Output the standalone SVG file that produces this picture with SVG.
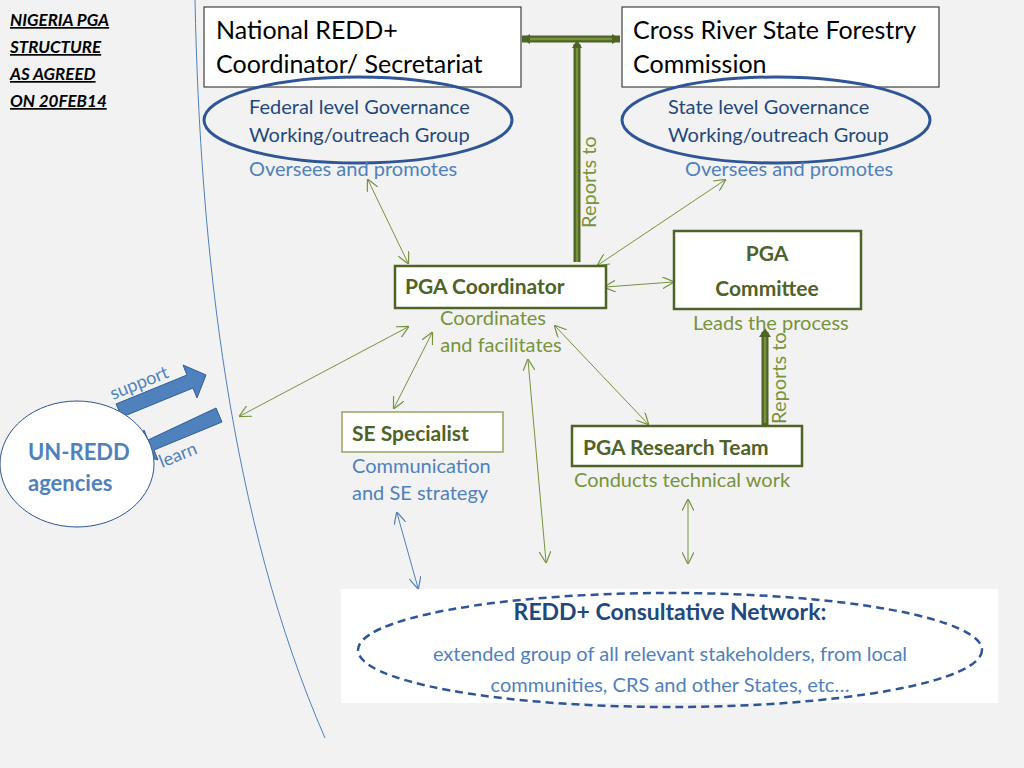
<svg xmlns="http://www.w3.org/2000/svg" width="1024" height="768" viewBox="0 0 1024 768">
<defs>
<style>
text{font-family:Lato,"Open Sans",sans-serif}
.box{fill:#fff;stroke:#404040;stroke-width:1.2}
.gbox{fill:#fff;stroke:#4f6228;stroke-width:2.5}
.blk{font-size:25px;fill:#000}
.gt{font-size:21px;fill:#4f6228;font-weight:bold}
.bt{font-size:20px;fill:#1f497d}
.lb{font-size:20px;fill:#4f81bd}
.gl{font-size:20px;fill:#77933c}
.thin{stroke:#77933c;stroke-width:1;fill:none;marker-start:url(#ga);marker-end:url(#ga)}
.thick{stroke:#4f6228;stroke-width:7;fill:none}
.inner{stroke:#77933c;stroke-width:2.5;fill:none}
</style>
<marker id="ga" viewBox="0 0 10 10" refX="9" refY="5" markerWidth="12" markerHeight="12" orient="auto-start-reverse" markerUnits="userSpaceOnUse"><path d="M0,0L10,5L0,10" fill="none" stroke="#77933c" stroke-width="1"/></marker>
<marker id="ba" viewBox="0 0 10 10" refX="9" refY="5" markerWidth="12" markerHeight="12" orient="auto-start-reverse" markerUnits="userSpaceOnUse"><path d="M0,0L10,5L0,10" fill="none" stroke="#4f81bd" stroke-width="1"/></marker>
</defs>
<rect width="1024" height="768" fill="#f2f2f2"/>
<g id="title"><text font-size="17" font-weight="bold" font-style="italic" text-decoration="underline" fill="#000"><tspan x="10" y="26">NIGERIA PGA</tspan><tspan x="10" y="53">STRUCTURE</tspan><tspan x="10" y="80">AS AGREED</tspan><tspan x="10" y="107">ON 20FEB14</tspan></text></g>
<path id="divider" d="M195,0 C200,250 230,520 325,738" fill="none" stroke="#4f81bd" stroke-width="1"/>
<g id="connectors">
<path class="thick" d="M522,39H620 M577,262V44"/>
<path class="inner" d="M524,39H618 M577,262V46"/>
<path d="M522,39l8,-5v10z M620,39l-8,-5v10z M577,40l-5,8h10z" fill="#4f6228"/>
<text class="gl" transform="translate(596,228) rotate(-90)">Reports to</text>
<path class="thick" d="M765,425V332"/><path class="inner" d="M765,423V336"/>
<path d="M765,328l-6,9h12z" fill="#4f6228"/>
<text class="gl" transform="translate(786,424) rotate(-90)">Reports to</text>
<line class="thin" x1="368" y1="180" x2="408" y2="263"/>
<line class="thin" x1="725" y1="180" x2="598" y2="265"/>
<line class="thin" x1="605" y1="287" x2="673" y2="282"/>
<line class="thin" x1="408" y1="327" x2="240" y2="416"/>
<line class="thin" x1="432" y1="333" x2="394" y2="408"/>
<line class="thin" x1="555" y1="326" x2="648" y2="424"/>
<line class="thin" x1="528" y1="360" x2="546" y2="562"/>
<line class="thin" x1="688" y1="500" x2="688" y2="563"/>
<line x1="397" y1="513" x2="418" y2="588" stroke="#4f81bd" stroke-width="1" marker-start="url(#ba)" marker-end="url(#ba)"/>
<path d="M116,404L187,375L183,365L206,375L197,398L193,388L122,417Z" fill="#4f81bd" stroke="#2f5f99" stroke-width="1"/>
<path d="M222,422L154,450L158,460L133,452L144,430L148,440L216,408Z" fill="#4f81bd" stroke="#2f5f99" stroke-width="1"/>
<text font-size="18" fill="#4f81bd" transform="translate(113,400) rotate(-22)">support</text>
<text font-size="18" fill="#4f81bd" transform="translate(162,468) rotate(-22)">learn</text>
</g>
<g id="national"><rect class="box" x="204" y="7" width="317" height="80"/><text class="blk"><tspan x="216" y="39">National REDD+</tspan><tspan x="216" y="73">Coordinator/ Secretariat</tspan></text></g>
<g id="crossriver"><rect class="box" x="622" y="7" width="317" height="80"/><text class="blk"><tspan x="633" y="39">Cross River State Forestry</tspan><tspan x="633" y="73">Commission</tspan></text></g>
<g id="federal"><ellipse cx="358" cy="120" rx="154" ry="43" fill="none" stroke="#2f5597" stroke-width="3"/><text class="bt"><tspan x="249" y="114">Federal level Governance</tspan><tspan x="249" y="142">Working/outreach Group</tspan></text><text class="lb" x="249" y="176">Oversees and promotes</text></g>
<g id="state"><ellipse cx="776" cy="120" rx="154" ry="43" fill="none" stroke="#2f5597" stroke-width="3"/><text class="bt"><tspan x="668" y="114">State level Governance</tspan><tspan x="668" y="142">Working/outreach Group</tspan></text><text class="lb" x="685" y="176">Oversees and promotes</text></g>
<g id="pgacoord"><rect class="gbox" x="395" y="266" width="211" height="42"/><text class="gt" x="405" y="294">PGA Coordinator</text><text class="gl" text-anchor="middle"><tspan x="493" y="325">Coordinates</tspan><tspan x="501" y="352">and facilitates</tspan></text></g>
<g id="committee"><rect class="gbox" x="674" y="231" width="187" height="78"/><text class="gt" font-size="24" text-anchor="middle"><tspan x="767" y="261">PGA</tspan><tspan x="767" y="296">Committee</tspan></text><text class="gl" x="693" y="330">Leads the process</text></g>
<g id="se"><rect x="342" y="412" width="161" height="40" fill="#fff" stroke="#77933c" stroke-width="1.2"/><text class="gt" x="352" y="441">SE Specialist</text><text class="lb"><tspan x="352" y="473">Communication</tspan><tspan x="352" y="500">and SE strategy</tspan></text></g>
<g id="research"><rect class="gbox" x="572" y="426" width="230" height="40"/><text class="gt" x="583" y="455">PGA Research Team</text><text class="gl" x="574" y="487">Conducts technical work</text></g>
<g id="unredd"><ellipse cx="77" cy="464" rx="77" ry="63" fill="#fff" stroke="#2f5597" stroke-width="1"/><text font-size="22" font-weight="bold" fill="#4f81bd"><tspan x="28" y="460">UN-REDD</tspan><tspan x="28" y="491">agencies</tspan></text></g>
<g id="network"><rect x="341" y="589" width="657" height="114" fill="#fff"/><ellipse cx="670" cy="650" rx="312" ry="57" fill="none" stroke="#2f5597" stroke-width="2.5" stroke-dasharray="8,5"/><text font-size="23" font-weight="bold" fill="#1f497d" text-anchor="middle" x="670" y="620">REDD+ Consultative Network:</text><text class="lb" font-size="22" text-anchor="middle"><tspan x="670" y="661">extended group of all relevant stakeholders, from local</tspan><tspan x="670" y="692">communities, CRS and other States, etc…</tspan></text></g>
</svg>
